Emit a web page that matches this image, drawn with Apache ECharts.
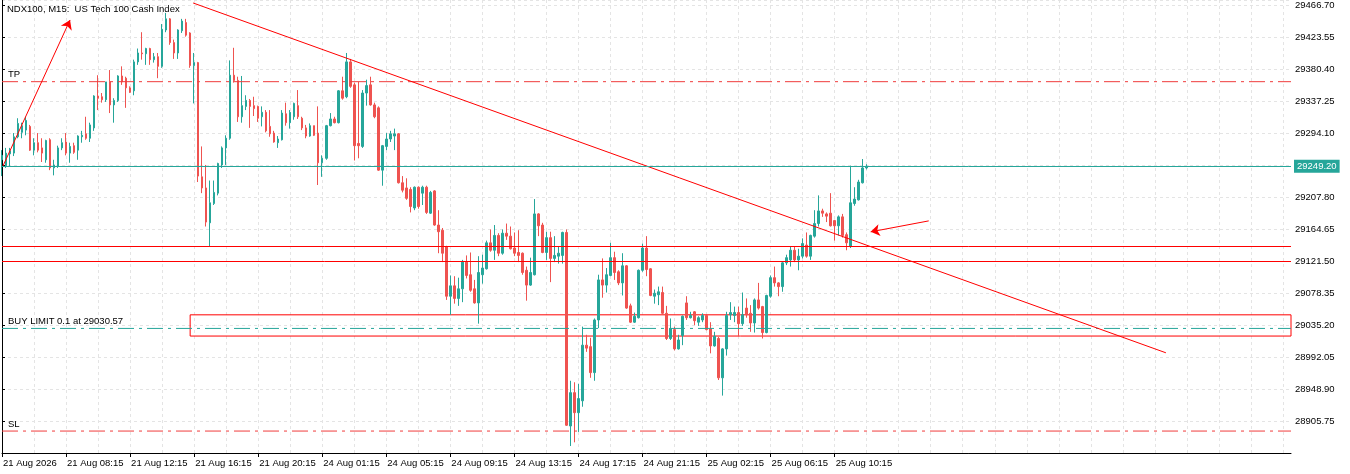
<!DOCTYPE html>
<html><head><meta charset="utf-8">
<script src="https://cdn.jsdelivr.net/npm/echarts@6/dist/echarts.min.js"></script>
<style>html,body{margin:0;padding:0;background:#fff}#c{width:1350px;height:474px}</style>
</head><body><div id="c"></div>
<script>
const chartTitle = 'NDX100, M15:  US Tech 100 Cash Index';
const tickLabels = ['21 Aug 2026','21 Aug 08:15','21 Aug 12:15','21 Aug 16:15','21 Aug 20:15','24 Aug 01:15','24 Aug 05:15','24 Aug 09:15','24 Aug 13:15','24 Aug 17:15','24 Aug 21:15','25 Aug 02:15','25 Aug 06:15','25 Aug 10:15'];
const barsPerLabel = 16;
const barsPerGrid = 8;
const totalSlots = 323;

const opens = [
29258,29250,29266,29267,29289,29295,29298,29303,29271,29281,
29274,29258,29285,29247,29249,29274,29282,29267,29277,29271,
29289,29293,29287,29301,29344,29343,29339,29363,29332,29338,
29371,29368,29355,29351,29390,29402,29401,29408,29393,29397,
29384,29433,29448,29416,29402,29432,29443,29429,29385,29389,
29235,29220,29173,29199,29213,29251,29274,29287,29372,29365,
29316,29330,29338,29331,29330,29316,29322,29303,29294,29281,
29285,29320,29308,29316,29331,29314,29301,29290,29304,29294,
29254,29260,29304,29313,29308,29351,29343,29390,29359,29280,
29276,29348,29359,29332,29328,29244,29276,29286,29290,29293,
29227,29220,29218,29193,29221,29213,29221,29186,29216,29170,
29163,29141,29074,29088,29071,29084,29120,29103,29084,29065,
29103,29111,29146,29136,29156,29132,29159,29155,29139,29133,
29132,29109,29089,29103,29185,29170,29133,29153,29125,29128,
29129,29160,28899,28944,28917,28933,29008,29006,28971,29042,
29096,29089,29102,29126,29107,29092,29115,29061,29039,29045,
29109,29139,29111,29074,29076,29079,29051,29017,29029,29003,
29021,29065,29045,29053,29039,29042,29048,29030,29007,29017,
28964,29003,29049,29048,29052,29037,29058,29051,29038,29069,
29060,29025,29074,29099,29092,29087,29119,29123,29136,29123,
29128,29143,29128,29155,29172,29189,29185,29186,29176,29169,
29181,29157,29141,29199,29204,29227,29247];
const closes = [
29264,29267,29270,29289,29307,29304,29311,29271,29281,29271,
29267,29284,29247,29251,29274,29281,29267,29276,29268,29290,
29291,29287,29305,29344,29341,29339,29363,29332,29338,29371,
29363,29355,29349,29390,29402,29401,29408,29393,29397,29384,
29434,29448,29416,29402,29433,29445,29426,29385,29389,29236,
29220,29174,29200,29214,29253,29274,29287,29372,29365,29316,
29331,29338,29330,29327,29314,29322,29297,29293,29282,29286,
29321,29308,29322,29334,29316,29301,29290,29304,29291,29254,
29260,29304,29313,29308,29351,29341,29390,29357,29277,29277,
29348,29358,29332,29316,29244,29277,29286,29293,29293,29227,
29217,29206,29195,29221,29195,29221,29187,29214,29170,29161,
29132,29074,29088,29071,29084,29120,29102,29082,29065,29106,
29112,29146,29136,29156,29132,29159,29155,29138,29132,29129,
29106,29089,29106,29185,29169,29133,29153,29125,29129,29132,
29160,28900,28944,28917,28936,29008,29004,28971,29042,29096,
29089,29103,29126,29106,29092,29115,29058,29039,29047,29109,
29139,29110,29075,29078,29080,29051,29017,29030,29003,29015,
29047,29045,29048,29041,29045,29048,29029,29007,29020,28964,
29003,29048,29052,29052,29037,29049,29049,29038,29069,29058,
29025,29075,29099,29092,29087,29119,29126,29136,29123,29128,
29145,29128,29156,29172,29189,29186,29182,29169,29169,29181,
29156,29146,29200,29205,29228,29247,29249.2];
const lows = [
29236,29247,29249,29263,29287,29287,29291,29270,29264,29268,
29255,29254,29244,29237,29247,29271,29264,29254,29266,29258,
29281,29285,29282,29297,29325,29335,29336,29321,29308,29336,
29359,29328,29348,29345,29386,29393,29386,29386,29389,29368,
29382,29430,29413,29394,29394,29429,29424,29382,29334,29228,
29213,29168,29141,29197,29210,29247,29251,29285,29362,29309,
29308,29325,29301,29317,29309,29303,29295,29289,29281,29274,
29284,29304,29300,29312,29313,29298,29287,29289,29290,29224,
29235,29258,29303,29307,29307,29339,29341,29355,29257,29260,
29274,29331,29331,29314,29243,29223,29271,29282,29271,29226,
29214,29204,29187,29190,29192,29197,29185,29185,29169,29132,
29120,29069,29049,29064,29061,29066,29098,29080,29064,29037,
29091,29110,29134,29123,29128,29130,29150,29137,29128,29120,
29103,29068,29088,29102,29155,29132,29123,29093,29120,29118,
29118,28899,28872,28877,28891,28925,28999,28964,28960,29031,
29072,29079,29101,29096,29089,29075,29057,29038,29038,29044,
29107,29101,29074,29064,29062,29049,29015,29015,29001,29002,
29008,29042,29044,29035,29034,29039,29028,28997,29006,28961,
28940,28994,29042,29039,29020,29034,29045,29026,29025,29056,
29017,29024,29072,29087,29074,29080,29116,29114,29120,29109,
29125,29126,29123,29153,29168,29181,29174,29168,29149,29156,
29153,29136,29139,29196,29203,29226,29245];
const highs = [
29271,29274,29274,29294,29314,29308,29316,29305,29287,29294,
29287,29285,29287,29258,29277,29287,29294,29281,29281,29291,
29297,29316,29308,29345,29372,29348,29363,29379,29341,29372,
29384,29370,29357,29393,29408,29430,29409,29409,29402,29402,
29441,29456,29449,29420,29434,29448,29448,29430,29402,29390,
29276,29251,29230,29230,29254,29276,29291,29392,29409,29370,
29371,29345,29340,29343,29331,29330,29325,29325,29297,29290,
29325,29335,29325,29335,29352,29316,29305,29307,29304,29330,
29264,29305,29321,29316,29352,29370,29402,29394,29362,29363,
29352,29366,29370,29335,29330,29278,29294,29297,29300,29294,
29236,29233,29221,29222,29222,29223,29223,29216,29217,29190,
29166,29142,29102,29101,29099,29123,29129,29133,29096,29128,
29130,29149,29164,29170,29159,29164,29172,29168,29160,29163,
29133,29114,29126,29205,29186,29173,29161,29161,29155,29141,
29161,29164,28960,28958,28956,29033,29022,29018,29044,29103,
29125,29112,29146,29134,29109,29132,29116,29064,29052,29110,
29145,29155,29112,29083,29087,29087,29061,29044,29033,29022,
29048,29074,29053,29054,29047,29051,29049,29039,29026,29019,
29004,29053,29066,29060,29060,29079,29071,29062,29071,29092,
29061,29076,29102,29114,29093,29120,29130,29141,29141,29138,
29152,29160,29157,29190,29210,29192,29187,29213,29177,29183,
29185,29160,29250,29221,29231,29259,29252];

const tpPrice = 29363.3;
const slPrice = 28892.2;
const buyLimitPrice = 29030.57;
const lastPrice = 29249.20;
const redLevels = [29141.5, 29121.5];
const zoneTop = 29048.9;
const zoneBottom = 29020.3;
const zoneStartBar = 47;
const trendLine = [[47.75, 29469.4], [290.75, 28997.7]];
const arrowUp = [[0.25, 29249.7], [17, 29446.5]];
const arrowLeft = [[231.5, 29175.6], [217, 29160.8]];

const yMin = 28862.60, yMax = 29473.44, yStep = 43.15;

const FONT = '"Liberation Sans", Arial, sans-serif';
const TEAL = '#26a69a', RED = '#ef5350', PURE_RED = '#ff0000', LEVEL_RED = '#f03c3c';
const DASH_DOT = [16, 5, 3, 5];
const categories = Array.from({length: totalSlots}, (_, i) => String(i));
const candles = opens.map((o, i) => [o, closes[i], lows[i], highs[i]]);
const labelIdx = (i) => i % barsPerLabel === 0 && i / barsPerLabel < tickLabels.length;

// A horizontal level drawn as a 2-point line series across the whole x range,
// with its caption as a label on the first point.
function levelSeries(value, color, text) {
  return {
    type: 'line', xAxisIndex: 1, yAxisIndex: 0, silent: true,
    data: [
      {value: [0, value], label: {show: !!text, formatter: text || '', position: 'top', align: 'left',
        offset: [6, 0], distance: 2, color: '#000', fontFamily: FONT, fontSize: 9.5}},
      {value: [totalSlots - 1, value]}
    ],
    showSymbol: true, symbol: 'circle', symbolSize: 0,
    itemStyle: {color: color},
    lineStyle: {color: color, width: 1, type: DASH_DOT, opacity: 1},
    z: 3
  };
}

const chart = echarts.init(document.getElementById('c'), null, {renderer: 'canvas'});
chart.setOption({
  animation: false,
  backgroundColor: '#ffffff',
  title: {text: chartTitle, left: 7, top: 4, padding: 0,
    textStyle: {fontSize: 9.5, fontWeight: 'normal', color: '#000', fontFamily: FONT}},
  grid: {left: 2, right: 59, top: 0, bottom: 21, outerBoundsMode: 'none', containLabel: false},
  xAxis: [{
    type: 'category', data: categories, boundaryGap: false,
    axisLine: {show: true, lineStyle: {color: '#000', width: 1}},
    axisTick: {show: true, length: 4, interval: (i) => labelIdx(i), lineStyle: {color: '#000'}},
    axisLabel: {interval: (i) => labelIdx(i), formatter: (v, i) => labelIdx(i) ? tickLabels[i / barsPerLabel] : '',
      align: 'left', margin: 5, padding: [0, 0, 0, 1], color: '#000', fontSize: 9.5, fontFamily: FONT},
    splitLine: {show: true, interval: (i) => i % barsPerGrid === 0 && i > 0,
      lineStyle: {color: '#e4e4e4', type: [3, 3], width: 1}}
  }, {
    type: 'value', min: 0, max: totalSlots - 1, show: false
  }],
  yAxis: [{
    type: 'value', position: 'right', min: yMin, max: yMax, interval: yStep,
    axisLine: {show: true, lineStyle: {color: '#000', width: 1}},
    axisTick: {show: true, length: 3, lineStyle: {color: '#000'}},
    axisLabel: {color: '#000', fontSize: 9.5, fontFamily: FONT, margin: 4,
      showMinLabel: false, showMaxLabel: false, formatter: (v) => v.toFixed(2)},
    splitLine: {show: true, lineStyle: {color: '#e4e4e4', type: [3, 3], width: 1}}
  }, {
    type: 'value', position: 'left', min: yMin, max: yMax, interval: yStep,
    axisLine: {show: true, onZero: false, lineStyle: {color: '#000', width: 1}},
    axisTick: {show: false}, axisLabel: {show: false}, splitLine: {show: false}
  }],
  series: [{
    type: 'candlestick',
    data: candles,
    barWidth: 2,
    clip: false,
    itemStyle: {color: TEAL, color0: RED, borderColor: TEAL, borderColor0: RED, borderWidth: 1},
    markLine: {
      silent: true, symbol: 'none', animation: false,
      data: [
        {yAxis: redLevels[0], lineStyle: {color: PURE_RED, type: 'solid', width: 1}, label: {show: false}},
        {yAxis: redLevels[1], lineStyle: {color: PURE_RED, type: 'solid', width: 1}, label: {show: false}},
        {yAxis: lastPrice, lineStyle: {color: TEAL, type: 'solid', width: 1},
          label: {show: true, formatter: lastPrice.toFixed(2), position: 'end', distance: 3,
            backgroundColor: TEAL, color: '#fff', padding: [2, 3, 1, 3], fontFamily: FONT, fontSize: 9.5}}
      ]
    },
    markArea: {
      silent: true,
      itemStyle: {color: 'rgba(0,0,0,0)', borderColor: PURE_RED, borderWidth: 1},
      data: [[{xAxis: zoneStartBar, yAxis: zoneTop}, {xAxis: totalSlots - 1, yAxis: zoneBottom}]]
    }
  },
  levelSeries(tpPrice, LEVEL_RED, 'TP'),
  levelSeries(slPrice, LEVEL_RED, 'SL'),
  levelSeries(buyLimitPrice, TEAL, 'BUY LIMIT 0.1 at ' + buyLimitPrice.toFixed(2)),
  {
    type: 'line', xAxisIndex: 1, yAxisIndex: 0,
    data: trendLine, symbol: 'none', silent: true,
    itemStyle: {color: PURE_RED},
    lineStyle: {color: PURE_RED, width: 1},
    markLine: {
      silent: true, animation: false, symbol: ['none', 'arrow'], symbolSize: 9,
      lineStyle: {color: PURE_RED, width: 1, type: 'solid'},
      label: {show: false},
      data: [
        [{coord: arrowUp[0]}, {coord: arrowUp[1]}],
        [{coord: arrowLeft[0]}, {coord: arrowLeft[1]}]
      ]
    }
  }]
});
</script>
</body></html>
